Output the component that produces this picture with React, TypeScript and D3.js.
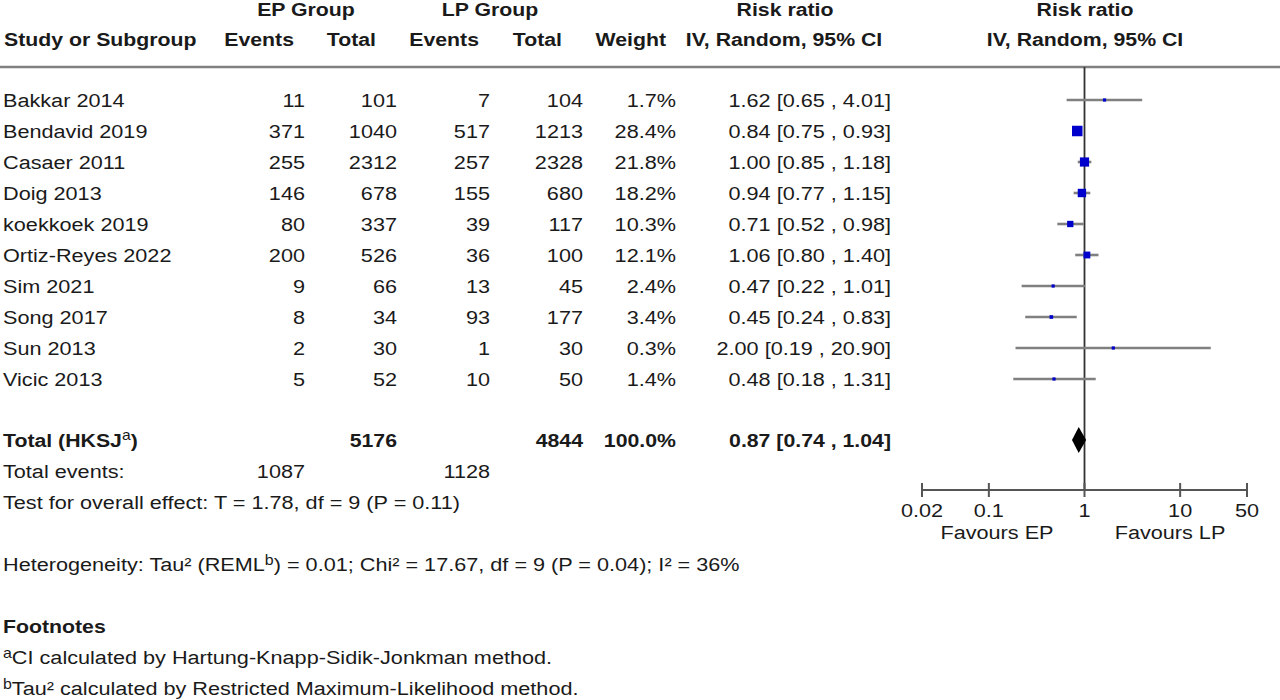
import * as d3 from "d3";
import {useEffect, useRef} from "react";

// study rows
const studies = ["Bakkar 2014", "Bendavid 2019", "Casaer 2011", "Doig 2013", "koekkoek 2019",
    "Ortiz-Reyes 2022", "Sim 2021", "Song 2017", "Sun 2013", "Vicic 2013"];
const epEvents = [11, 371, 255, 146, 80, 200, 9, 8, 2, 5];
const epTotal = [101, 1040, 2312, 678, 337, 526, 66, 34, 30, 52];
const lpEvents = [7, 517, 257, 155, 39, 36, 13, 93, 1, 10];
const lpTotal = [104, 1213, 2328, 680, 117, 100, 45, 177, 30, 50];
const weights = [1.7, 28.4, 21.8, 18.2, 10.3, 12.1, 2.4, 3.4, 0.3, 1.4];
const rr = [1.62, 0.84, 1.00, 0.94, 0.71, 1.06, 0.47, 0.45, 2.00, 0.48];
const lo = [0.65, 0.75, 0.85, 0.77, 0.52, 0.80, 0.22, 0.24, 0.19, 0.18];
const hi = [4.01, 0.93, 1.18, 1.15, 0.98, 1.40, 1.01, 0.83, 20.90, 1.31];

// pooled
const total = {ep: 5176, lp: 4844, epEvents: 1087, lpEvents: 1128, rr: 0.87, lo: 0.74, hi: 1.04};
const axisTicks = [0.02, 0.1, 1, 10, 50];

const FONT = "'Liberation Sans', Arial, sans-serif";
const INK = "#1a1a1a";
// glyphs in the source are a bit wider than plain Arial
const SX = 1.14;
const SX_BOLD = 1.12;

const App = () => {
    const svgRef = useRef(null);

    useEffect(() => {
        if (!svgRef.current) return;
        const svg = d3.select(svgRef.current);
        svg.selectAll("*").remove();
        svg.attr("font-family", FONT).attr("font-size", 19).attr("fill", INK);

        const label = (x: number, y: number, anchor = "start", bold = false) =>
            svg.append("text")
                .attr("transform", `translate(${x},${y}) scale(${bold ? SX_BOLD : SX},1)`)
                .attr("text-anchor", anchor)
                .attr("dominant-baseline", "central")
                .attr("font-weight", bold ? "bold" : "normal");

        const text = (x: number, y: number, s: string, anchor = "start", bold = false) =>
            label(x, y, anchor, bold).text(s);

        const sup = (t: any, s: string) =>
            t.append("tspan").attr("font-size", 14).attr("font-weight", "normal").attr("dy", -5).text(s);

        // headers
        text(306, 9, "EP Group", "middle", true);
        text(490, 9, "LP Group", "middle", true);
        text(785, 9, "Risk ratio", "middle", true);
        text(1085, 9, "Risk ratio", "middle", true);
        text(4, 39, "Study or Subgroup", "start", true);
        text(294, 39, "Events", "end", true);
        text(376, 39, "Total", "end", true);
        text(479, 39, "Events", "end", true);
        text(562, 39, "Total", "end", true);
        text(666, 39, "Weight", "end", true);
        text(784, 39, "IV, Random, 95% CI", "middle", true);
        text(1085, 39, "IV, Random, 95% CI", "middle", true);

        svg.append("line")
            .attr("x1", 0).attr("x2", 1280).attr("y1", 67).attr("y2", 67)
            .attr("stroke", "#808080").attr("stroke-width", 2.5);

        // rows
        const y = d3.scalePoint<number>()
            .domain(d3.range(studies.length))
            .range([100, 379]);

        const x = d3.scaleLog().domain([0.02, 50]).range([922, 1247]);
        const size = d3.scaleSqrt().domain([0, 28.4]).range([0, 10.5]);
        const side = (i: number) => Math.max(3.2, size(weights[i]));
        const f2 = d3.format(".2f");

        studies.forEach((s, i) => {
            const yy = y(i)!;
            text(3, yy, s);
            text(305, yy, String(epEvents[i]), "end");
            text(397, yy, String(epTotal[i]), "end");
            text(490, yy, String(lpEvents[i]), "end");
            text(583, yy, String(lpTotal[i]), "end");
            text(676, yy, weights[i].toFixed(1) + "%", "end");
            text(891, yy, `${f2(rr[i])} [${f2(lo[i])} , ${f2(hi[i])}]`, "end");
        });

        // vertical line of no effect
        svg.append("line")
            .attr("x1", x(1)).attr("x2", x(1)).attr("y1", 67).attr("y2", 490)
            .attr("stroke", "#333").attr("stroke-width", 1.8);

        // CI whiskers
        svg.append("g").selectAll("line")
            .data(d3.range(studies.length))
            .join("line")
            .attr("x1", i => x(lo[i])).attr("x2", i => x(hi[i]))
            .attr("y1", i => y(i)!).attr("y2", i => y(i)!)
            .attr("stroke", "#808080").attr("stroke-width", 2.6);

        // weighted squares
        svg.append("g").selectAll("rect")
            .data(d3.range(studies.length))
            .join("rect")
            .attr("x", i => x(rr[i]) - side(i) / 2)
            .attr("y", i => y(i)! - side(i) / 2)
            .attr("width", side)
            .attr("height", side)
            .attr("fill", "#0000cc");

        // total row
        const ty = 440;
        const tot = label(3, ty, "start", true);
        tot.append("tspan").text("Total (HKSJ");
        sup(tot, "a");
        tot.append("tspan").attr("dy", 5).text(")");
        text(397, ty, String(total.ep), "end", true);
        text(583, ty, String(total.lp), "end", true);
        text(676, ty, "100.0%", "end", true);
        text(891, ty, `${f2(total.rr)} [${f2(total.lo)} , ${f2(total.hi)}]`, "end", true);

        svg.append("path")
            .attr("d", d3.line()([
                [x(total.lo), ty], [x(total.rr), ty - 13], [x(total.hi), ty], [x(total.rr), ty + 13]
            ]) + "Z")
            .attr("fill", "#000");

        text(3, 471, "Total events:");
        text(305, 471, String(total.epEvents), "end");
        text(490, 471, String(total.lpEvents), "end");
        text(3, 502, "Test for overall effect: T = 1.78, df = 9 (P = 0.11)");

        // axis
        const axisY = 490;
        const ag = svg.append("g").attr("transform", `translate(0,${axisY})`);
        ag.append("line")
            .attr("x1", x(0.02)).attr("x2", x(50))
            .attr("stroke", "#555").attr("stroke-width", 2);
        ag.selectAll("line.tick")
            .data(axisTicks)
            .join("line")
            .attr("class", "tick")
            .attr("x1", d => x(d)).attr("x2", d => x(d))
            .attr("y1", -7).attr("y2", 7)
            .attr("stroke", "#555").attr("stroke-width", 2);
        ag.selectAll("text")
            .data(axisTicks)
            .join("text")
            .attr("transform", d => `translate(${x(d)},20) scale(${SX},1)`)
            .attr("text-anchor", "middle")
            .attr("dominant-baseline", "central")
            .text(d => String(d));
        text(997, 532, "Favours EP", "middle");
        text(1170, 532, "Favours LP", "middle");

        // heterogeneity + footnotes
        const het = label(3, 564);
        het.append("tspan").text("Heterogeneity: Tau² (REML");
        sup(het, "b");
        het.append("tspan").attr("dy", 5).text(") = 0.01; Chi² = 17.67, df = 9 (P = 0.04); I² = 36%");

        text(3, 626, "Footnotes", "start", true);
        const fa = label(3, 657);
        sup(fa, "a");
        fa.append("tspan").attr("dy", 5).text("CI calculated by Hartung-Knapp-Sidik-Jonkman method.");
        const fb = label(3, 688);
        sup(fb, "b");
        fb.append("tspan").attr("dy", 5).text("Tau² calculated by Restricted Maximum-Likelihood method.");
    }, []);

    return <svg ref={svgRef} width={1280} height={700}
                style={{position: "absolute", left: 0, top: 0, display: "block", background: "#fff"}}/>;
};

export default App;
